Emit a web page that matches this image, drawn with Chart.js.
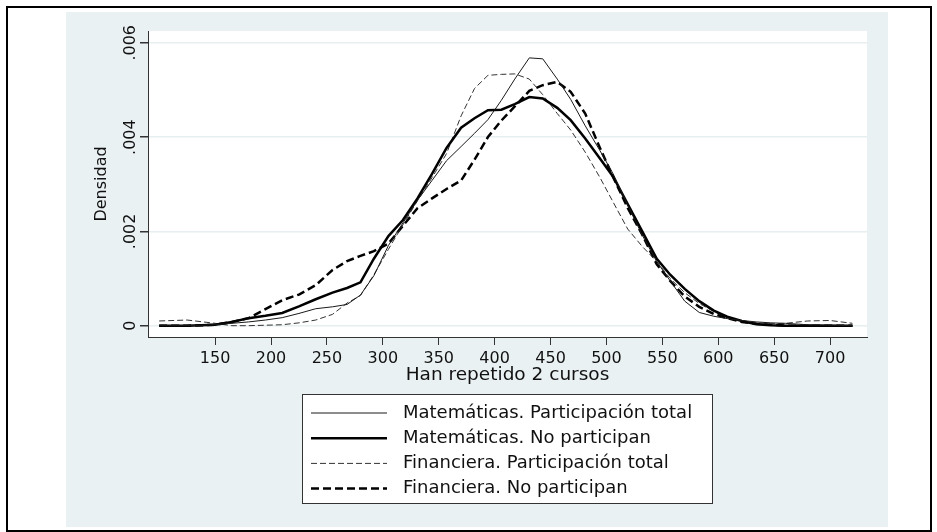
<!DOCTYPE html>
<html>
<head>
<meta charset="utf-8">
<script src="https://cdn.jsdelivr.net/npm/chart.js@4/dist/chart.umd.min.js"></script>
<style>
  html, body { margin: 0; padding: 0; background: #fff; }
  #wrap { position: relative; width: 937px; height: 532px; }
</style>
</head>
<body>
<div id="wrap"><canvas id="densityChart" width="937" height="532"></canvas></div>
<script>
// Puntuación (eje x) y densidades en milésimas (eje y)
var puntos = [100, 125, 150, 165, 180, 195, 210, 225, 240, 255, 268, 280, 292, 305, 318, 331, 344, 357, 370, 382, 394, 406, 418, 431, 443, 456, 468, 481, 494, 506, 519, 532, 545, 557, 570, 583, 596, 608, 621, 634, 647, 660, 680, 700, 720];

var matTotal = [0, 0, 0.02, 0.05, 0.08, 0.12, 0.17, 0.26, 0.36, 0.40, 0.45, 0.65, 1.06, 1.70, 2.18, 2.66, 3.08, 3.50, 3.80, 4.08, 4.37, 4.78, 5.23, 5.68, 5.66, 5.23, 4.80, 4.24, 3.72, 3.22, 2.56, 1.92, 1.36, 0.95, 0.52, 0.28, 0.20, 0.15, 0.11, 0.08, 0.06, 0.05, 0.02, 0.01, 0];
var matNo = [0, 0, 0.02, 0.08, 0.16, 0.21, 0.27, 0.41, 0.56, 0.70, 0.80, 0.92, 1.42, 1.90, 2.24, 2.70, 3.22, 3.77, 4.20, 4.40, 4.57, 4.58, 4.70, 4.85, 4.82, 4.62, 4.36, 3.97, 3.55, 3.16, 2.58, 2.00, 1.42, 1.08, 0.78, 0.52, 0.32, 0.19, 0.10, 0.03, 0.01, 0, 0, 0, 0];
var finTotal = [0.10, 0.12, 0.05, 0, 0, 0.01, 0.02, 0.06, 0.12, 0.24, 0.48, 0.64, 1.08, 1.62, 2.14, 2.65, 3.14, 3.65, 4.45, 5.03, 5.31, 5.33, 5.34, 5.23, 4.90, 4.50, 4.15, 3.68, 3.15, 2.62, 2.05, 1.68, 1.36, 1.00, 0.70, 0.47, 0.30, 0.17, 0.10, 0.06, 0.04, 0.05, 0.10, 0.11, 0.05];
var finNo = [0, 0, 0.02, 0.08, 0.16, 0.35, 0.54, 0.66, 0.86, 1.18, 1.37, 1.48, 1.58, 1.74, 2.12, 2.49, 2.70, 2.90, 3.08, 3.52, 4.00, 4.35, 4.65, 4.98, 5.10, 5.17, 4.96, 4.50, 3.78, 3.15, 2.50, 1.93, 1.30, 0.95, 0.62, 0.40, 0.25, 0.16, 0.08, 0.04, 0.02, 0, 0, 0, 0];

var etiquetas = ['Matemáticas. Participación total', 'Matemáticas. No participan', 'Financiera. Participación total', 'Financiera. No participan'];
var xTicks = [150, 200, 250, 300, 350, 400, 450, 500, 550, 600, 650, 700];
var yTicks = [0, 2, 4, 6];
var yTickLabels = ['0', '.002', '.004', '.006'];

var fuente = "'DejaVu Sans', Verdana, sans-serif";
Chart.defaults.font.family = fuente;
Chart.defaults.font.size = 16;
Chart.defaults.color = '#111';

function serie(ys) {
    return puntos.map(function(x, i) { return { x: x, y: ys[i] }; });
}

// fondo estilo Stata: marco, región gris azulada y área blanca
var fondo = {
    id: 'fondo',
    beforeDraw: function(chart) {
        var ctx = chart.ctx, a = chart.chartArea;
        ctx.save();
        ctx.fillStyle = '#fff';
        ctx.fillRect(0, 0, chart.width, chart.height);
        ctx.fillStyle = '#eaf1f3';
        ctx.fillRect(66, 12, 822, 515);
        ctx.fillStyle = '#fff';
        ctx.fillRect(a.left, a.top, a.right - a.left, a.bottom - a.top);
        ctx.strokeStyle = '#000';
        ctx.lineWidth = 2;
        ctx.strokeRect(7, 7, 924, 524);
        ctx.restore();
    }
};

// etiquetas del eje y giradas y leyenda en recuadro
var extras = {
    id: 'extras',
    afterDraw: function(chart) {
        var ctx = chart.ctx, y = chart.scales.y;
        ctx.save();
        ctx.fillStyle = '#111';
        ctx.font = '16px ' + fuente;
        ctx.textAlign = 'center';
        ctx.textBaseline = 'alphabetic';
        yTicks.forEach(function(v, i) {
            ctx.save();
            ctx.translate(135, y.getPixelForValue(v));
            ctx.rotate(-Math.PI / 2);
            ctx.fillText(yTickLabels[i], 0, 0);
            ctx.restore();
        });

        ctx.fillStyle = '#fff';
        ctx.fillRect(302.5, 394.5, 410, 109);
        ctx.strokeStyle = '#333';
        ctx.lineWidth = 1;
        ctx.strokeRect(302.5, 394.5, 410, 109);
        ctx.font = '18px ' + fuente;
        ctx.textAlign = 'left';
        ctx.textBaseline = 'middle';
        chart.data.datasets.forEach(function(ds, i) {
            var ly = 413 + i * 25.2;
            ctx.beginPath();
            ctx.strokeStyle = ds.borderColor;
            ctx.lineWidth = ds.borderWidth;
            ctx.setLineDash(ds.borderDash || []);
            ctx.moveTo(311, ly);
            ctx.lineTo(387, ly);
            ctx.stroke();
            ctx.setLineDash([]);
            ctx.fillStyle = '#111';
            ctx.fillText(ds.label, 403, ly);
        });
        ctx.restore();
    }
};

var ctx = document.getElementById('densityChart').getContext('2d');
var chart = new Chart(ctx, {
    type: 'line',
    data: {
        datasets: [
            { label: etiquetas[0], data: serie(matTotal), borderColor: '#1a1a1a', borderWidth: 1 },
            { label: etiquetas[1], data: serie(matNo), borderColor: '#000', borderWidth: 2.5 },
            { label: etiquetas[2], data: serie(finTotal), borderColor: '#333', borderWidth: 1, borderDash: [6, 3] },
            { label: etiquetas[3], data: serie(finNo), borderColor: '#000', borderWidth: 2.5, borderDash: [8, 4] }
        ]
    },
    options: {
        responsive: false,
        animation: false,
        devicePixelRatio: 1,
        layout: { padding: { left: 66, top: 31, right: 70, bottom: 146 } },
        elements: {
            point: { radius: 0 },
            line: { tension: 0, fill: false }
        },
        plugins: {
            legend: { display: false },
            tooltip: { enabled: false }
        },
        scales: {
            x: {
                type: 'linear',
                min: 90,
                max: 733,
                afterBuildTicks: function(s) { s.ticks = xTicks.map(function(v) { return { value: v }; }); },
                afterFit: function(s) { s.height = 49; },
                ticks: { padding: 4, maxRotation: 0, color: '#111' },
                grid: { drawOnChartArea: false, drawTicks: true, tickLength: 8, tickColor: '#333' },
                border: { display: true, color: '#333', width: 1 },
                title: { display: true, text: 'Han repetido 2 cursos', color: '#111', font: { size: 18.5 }, padding: { top: 0, bottom: 0 } }
            },
            y: {
                type: 'linear',
                min: -0.24,
                max: 6.25,
                afterBuildTicks: function(s) { s.ticks = yTicks.map(function(v) { return { value: v }; }); },
                afterFit: function(s) { s.width = 82; },
                ticks: { display: false },
                grid: { color: '#e6eef0', lineWidth: 1.5, drawTicks: true, tickLength: 8, tickColor: '#333' },
                border: { display: true, color: '#333', width: 1 },
                title: { display: true, text: 'Densidad', color: '#111', padding: { top: 26, bottom: 0 } }
            }
        }
    },
    plugins: [fondo, extras]
});
</script>
</body>
</html>
